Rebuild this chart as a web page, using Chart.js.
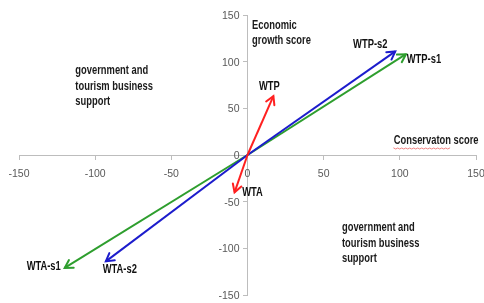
<!DOCTYPE html>
<html>
<head>
<meta charset="utf-8">
<script src="https://cdn.jsdelivr.net/npm/chart.js@4.4.1/dist/chart.umd.min.js"></script>
<style>
  html, body { margin: 0; padding: 0; background: #fff; }
  #wrap { width: 484px; height: 303px; }
</style>
</head>
<body>
<div id="wrap"><canvas id="chart"></canvas></div>
<script>
// --- data ---
const arrowNames = ['WTP', 'WTA', 'WTP-s2', 'WTA-s2', 'WTP-s1', 'WTA-s1'];
const arrowX = [17, -8.5, 97, -93, 104, -120];
const arrowY = [63, -40, 111, -114, 108, -121];
const axisTicks = [-150, -100, -50, 0, 50, 100, 150];

// quadrant / axis notes (anchored in data units)
const notes = [
    { lines: ['government and', 'tourism business', 'support'], x: -113, y: 90 },
    { lines: ['government and', 'tourism business', 'support'], x: 62, y: -78 },
    { lines: ['Economic', 'growth score'], x: 3, y: 139 },
    { lines: ['Conservaton score'], x: 96, y: 15, squiggle: true }
];

// styles
const arrowColors = ['#ff2020', '#ff2020', '#1c1ccc', '#1c1ccc', '#2e9e2e', '#2e9e2e'];
const labelOffsets = [[-4, -10], [18, 0], [-25, -7], [14, 8], [18, 5], [-21, -1]];
const FONT = "'Liberation Sans', Arial, sans-serif";
const SQUEEZE = 0.78;

// bold condensed-looking text: squeeze horizontally
function narrowText(ctx, text, x, y, align) {
    ctx.save();
    ctx.translate(x, y);
    ctx.scale(SQUEEZE, 1);
    ctx.textAlign = align;
    ctx.textBaseline = 'middle';
    ctx.fillText(text, 0, 0);
    ctx.restore();
}

const datasets = arrowNames.map((name, i) => ({
    label: name,
    data: [{ x: 0, y: 0 }, { x: arrowX[i], y: arrowY[i] }],
    showLine: true,
    borderColor: arrowColors[i],
    backgroundColor: arrowColors[i],
    borderWidth: 2,
    pointRadius: 0,
    pointHoverRadius: 0
}));

// tick labels for the centred axes (Chart.js ignores ticks.padding there)
const tickLabelPlugin = {
    id: 'centreTicks',
    afterDraw(chart) {
        const ctx = chart.ctx;
        const xs = chart.scales.x, ys = chart.scales.y;
        const x0 = xs.getPixelForValue(0), y0 = ys.getPixelForValue(0);
        ctx.save();
        ctx.fillStyle = '#595959';
        ctx.font = '10.5px ' + FONT;
        ctx.textBaseline = 'middle';
        ctx.textAlign = 'center';
        xs.ticks.forEach(t => ctx.fillText(String(t.value), xs.getPixelForValue(t.value), y0 + 19));
        ctx.textAlign = 'right';
        ys.ticks.forEach(t => ctx.fillText(String(t.value), x0 - 8, ys.getPixelForValue(t.value) + 1));
        ctx.restore();
    }
};

// arrowheads, arrow labels and free notes
const arrowPlugin = {
    id: 'arrows',
    afterDatasetsDraw(chart) {
        const ctx = chart.ctx;
        const xs = chart.scales.x, ys = chart.scales.y;
        ctx.save();
        chart.data.datasets.forEach((ds, i) => {
            const pts = chart.getDatasetMeta(i).data;
            const a = pts[0], b = pts[1];
            const ang = Math.atan2(b.y - a.y, b.x - a.x);
            const len = 9, spread = Math.PI / 6;
            ctx.strokeStyle = ds.borderColor;
            ctx.lineWidth = 2;
            ctx.lineCap = 'round';
            ctx.beginPath();
            ctx.moveTo(b.x - len * Math.cos(ang - spread), b.y - len * Math.sin(ang - spread));
            ctx.lineTo(b.x, b.y);
            ctx.lineTo(b.x - len * Math.cos(ang + spread), b.y - len * Math.sin(ang + spread));
            ctx.stroke();

            ctx.fillStyle = '#111';
            ctx.font = 'bold 12px ' + FONT;
            narrowText(ctx, ds.label, b.x + labelOffsets[i][0], b.y + labelOffsets[i][1], 'center');
        });

        notes.forEach(n => {
            const px = xs.getPixelForValue(n.x);
            const py = ys.getPixelForValue(n.y);
            ctx.fillStyle = '#1a1a1a';
            ctx.font = 'bold 12px ' + FONT;
            n.lines.forEach((t, k) => narrowText(ctx, t, px, py + k * 15.5, 'left'));
            if (n.squiggle) {
                const w = ctx.measureText('Conservaton').width * SQUEEZE;
                ctx.strokeStyle = '#f08080';
                ctx.lineWidth = 1;
                ctx.beginPath();
                for (let sx = 0; sx <= w; sx += 2) {
                    const sy = py + 7 + ((sx / 2) % 2 ? 1 : 0);
                    if (sx === 0) ctx.moveTo(px + sx, sy); else ctx.lineTo(px + sx, sy);
                }
                ctx.stroke();
            }
        });
        ctx.restore();
    }
};

const axisStyle = {
    type: 'linear',
    min: -150,
    max: 150,
    afterBuildTicks: axis => { axis.ticks = axisTicks.map(v => ({ value: v })); },
    afterFit: axis => {
        axis.paddingLeft = 0; axis.paddingRight = 0;
        axis.paddingTop = 0; axis.paddingBottom = 0;
    },
    grid: { drawOnChartArea: false, drawTicks: true, tickLength: 4, color: '#bdbdbd' },
    border: { color: '#bdbdbd', width: 1 },
    ticks: { display: false }
};

new Chart(document.getElementById('chart'), {
    type: 'scatter',
    data: { datasets: datasets },
    options: {
        responsive: true,
        maintainAspectRatio: false,
        animation: false,
        layout: { padding: { left: 19, right: 8, top: 15, bottom: 8 } },
        plugins: { legend: { display: false }, tooltip: { enabled: false } },
        scales: {
            x: Object.assign({}, axisStyle, { position: { y: 0 } }),
            y: Object.assign({}, axisStyle, { position: { x: 0 } })
        }
    },
    plugins: [arrowPlugin, tickLabelPlugin]
});
</script>
</body>
</html>
